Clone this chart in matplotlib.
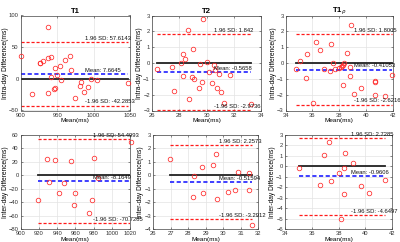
import matplotlib
matplotlib.use("Agg")
import matplotlib.pyplot as plt
import numpy as np

# ---------------- data ----------------
t1_intra_x = [937, 901, 926, 927, 930, 937, 941.5, 961, 967, 954, 947, 968.6, 950, 941, 955,
              997, 1005, 1047, 983, 981, 993, 987, 947, 946, 937, 916, 974]
t1_intra_y = [82, 36, 25, 25, 28.6, 33, 34.4, 29.7, 36, 20, 16.7, 14, 5.7, 3, -2.6,
              0, -1.6, -6.8, -5.7, -11, -13, -21, -14, -15.6, -22, -23.4, -30]
t1_intra_stats = [7.6645, 57.6143, -42.2853]

t2_intra_x = [26.37, 27.5, 27.6, 28.1, 28.25, 28.45, 28.3, 28.65, 28.7, 28.95, 29.05, 29.0, 29.75,
              29.45, 29.55, 29.65, 30.0, 30.2, 30.4, 30.55, 30.65, 30.75, 30.9, 31.05, 31.3, 31.75, 33.3]
t2_intra_y = [-0.35, -0.25, -1.77, 0.0, 0.58, 0.25, -0.83, 2.07, -2.3, -0.88, -1.0, 0.87, 2.75,
              -1.6, -0.05, -1.2, 0.08, -0.55, -1.25, -0.15, -0.45, -1.6, -0.7, -1.8, -2.5, -0.78, -2.6]
t2_intra_stats = [-0.5658, 1.842, -2.9736]

t1r_intra_x = [34.8, 35.04, 35.6, 35.5, 36.24, 36.54, 36.04, 36.9, 37.28, 37.4, 37.53, 37.7, 38.0,
               38.1, 38.2, 38.3, 38.35, 38.28, 38.57, 38.78, 38.78, 38.9, 39.1, 39.64, 40.64, 40.68,
               40.64, 41.43, 41.95]
t1r_intra_y = [-0.4, 0.12, 0.6, -0.94, 1.31, 0.81, -2.52, -0.41, -0.52, 1.19, -0.03, -0.41, -0.3,
               -0.25, -0.2, -0.1, -0.03, -1.36, 0.64, -0.26, -0.83, 2.37, -1.97, -1.57, -1.21, -1.15,
               -2.03, -2.1, -0.77]
t1r_intra_stats = [-0.41053, 1.8005, -2.6216]

t1_inter_x = [918.6, 928.5, 930.7, 937.6, 941.6, 947, 954.8, 958, 959.5, 975.3, 978.2, 980, 984.8, 1020.6]
t1_inter_y = [-36.7, 23.9, -9.6, 22.9, -26.4, -11.6, 21, -43.6, -26.4, -56.5, -36.7, 25.4, -4.7, 49]
t1_inter_stats = [-8.1649, 54.4993, -70.7285]

t2_inter_x = [26.95, 28.33, 28.8, 29.41, 29.57, 28.29, 28.84, 29.65, 30.24, 30.65, 30.82, 31.47, 31.47, 31.65]
t2_inter_y = [1.24, -0.08, 0.59, 0.74, 1.56, -1.6, -1.33, -1.73, -1.26, -1.1, 0.24, 0.17, -1.1, -3.71]
t2_inter_stats = [-0.51594, 2.2573, -3.2912]

t1r_inter_x = [35.02, 36.89, 37.28, 36.59, 37.41, 38.0, 38.38, 38.45, 38.38, 38.16, 39.07, 39.7, 40.24, 41.49]
t1r_inter_y = [-0.19, 1.09, 2.31, -1.76, -1.44, -0.64, -0.19, 1.28, -2.66, -5.07, 0.29, -1.92, -2.53, -1.32]
t1r_inter_stats = [-0.9606, 2.7285, -4.6497]

titles = ["T1", "T2", r"T1$_{\rho}$"]
ylabels = ["Intra-day Difference(ms)", "Inter-day Difference(ms)"]
xlabel = "Mean(ms)"

panels = [
    (t1_intra_x, t1_intra_y, t1_intra_stats, (900, 1050), (-50, 100), np.arange(900, 1051, 50), np.arange(-50, 101, 50)),
    (t2_intra_x, t2_intra_y, t2_intra_stats, (26, 34), (-3, 3), np.arange(26, 35, 2), np.arange(-3, 4, 1)),
    (t1r_intra_x, t1r_intra_y, t1r_intra_stats, (34, 42), (-3, 3), np.arange(34, 43, 2), np.arange(-3, 4, 1)),
    (t1_inter_x, t1_inter_y, t1_inter_stats, (900, 1020), (-80, 60), np.arange(900, 1021, 20), np.arange(-80, 61, 20)),
    (t2_inter_x, t2_inter_y, t2_inter_stats, (26, 32), (-4, 3), np.arange(26, 33, 1), np.arange(-4, 4, 1)),
    (t1r_inter_x, t1r_inter_y, t1r_inter_stats, (34, 42), (-6, 3), np.arange(34, 43, 2), np.arange(-6, 4, 1)),
]

# axes boxes in pixels: left, top, right, bottom
boxes = [(20.7, 15.5, 130, 110.5), (152, 15.5, 261, 110.5), (285.7, 15.5, 392.7, 110.5),
         (20.7, 135, 130, 229), (153.3, 135, 258.3, 229), (285, 135, 392.3, 229)]

W, H = 400, 242
plt.rcParams['font.family'] = ['Liberation Sans Narrow', 'Liberation Sans', 'DejaVu Sans']
fig = plt.figure(figsize=(W / 100, H / 100), dpi=100)

tick_fs = 4.2
for i, (x, y, st, xl, yl, xt, yt) in enumerate(panels):
    l, t, r, b = boxes[i]
    ax = fig.add_axes([l / W, 1 - b / H, (r - l) / W, (b - t) / H])
    x = np.asarray(x); y = np.asarray(y)
    xmin, xmax = x.min(), x.max()
    mean, up, lo = st
    ax.plot([xmin, xmax], [0, 0], color='#222222', lw=1.3, zorder=2)
    ax.plot([xmin, xmax], [mean, mean], color='#1f1fff', lw=1.2, ls=(0, (2.5, 1.5)), zorder=2)
    ax.plot([xmin, xmax], [up, up], color='#ff1a1a', lw=0.9, ls=(0, (2.5, 1.5)), zorder=2)
    ax.plot([xmin, xmax], [lo, lo], color='#ff1a1a', lw=0.9, ls=(0, (2.5, 1.5)), zorder=2)
    ax.plot(x, y, 'o', mfc='none', mec='#ff2a2a', ms=3.3, mew=0.55, zorder=3, clip_on=False)
    tx = xmin + 0.6 * (xmax - xmin)
    off = 0.012 * (yl[1] - yl[0])
    ax.text(tx, up + off, f"1.96 SD: {up:g}", fontsize=tick_fs, va='bottom', ha='left', color='#111111')
    ax.text(tx, mean + off, f"Mean: {mean:g}", fontsize=tick_fs, va='bottom', ha='left', color='#111111')
    ax.text(tx, lo + off, f"-1.96 SD: {lo:g}", fontsize=tick_fs, va='bottom', ha='left', color='#111111')
    ax.set_xlim(xl); ax.set_ylim(yl)
    ax.set_xticks(xt); ax.set_yticks(yt)
    ax.grid(True, color='#e3e3e3', lw=0.5)
    ax.set_axisbelow(True)
    ax.tick_params(direction='in', length=1.5, width=0.4, labelsize=tick_fs, pad=1.5,
                   top=True, right=True, colors='#333333')
    for s in ax.spines.values():
        s.set_linewidth(0.5); s.set_color('#444444')
    ax.set_xlabel(xlabel, fontsize=4.6, labelpad=0.5)
    ax.set_ylabel(ylabels[i // 3], fontsize=4.8, labelpad=0)
    if i < 3:
        ax.set_title(titles[i], fontsize=5.6, fontweight='bold', pad=2)

fig.savefig("out.png", dpi=100)
